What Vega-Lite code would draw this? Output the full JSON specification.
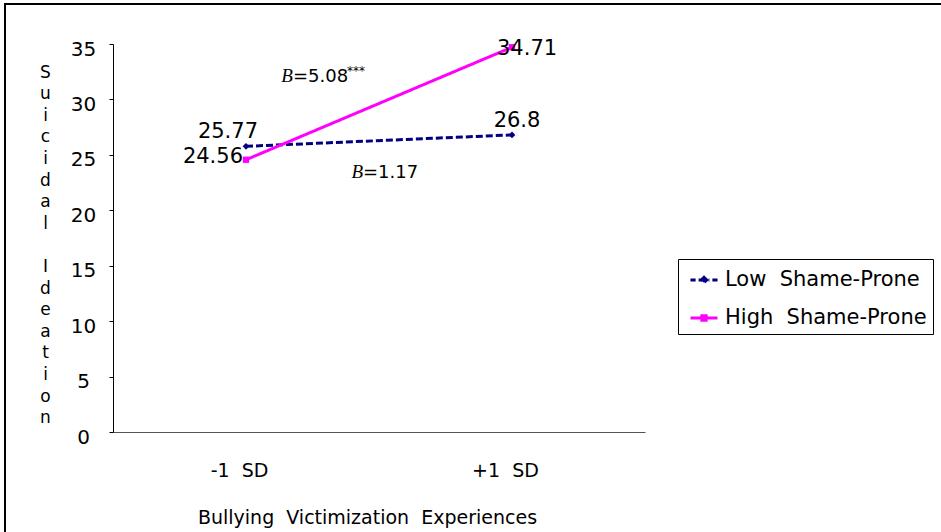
{
  "$schema": "https://vega.github.io/schema/vega-lite/v6.json",
  "width": 936,
  "height": 528,
  "autosize": {"type": "none"},
  "padding": {"left": 5, "top": 4, "right": 0, "bottom": 0},
  "background": "white",
  "config": {
    "view": {"stroke": "#000", "strokeWidth": 2, "strokeDash": [936, 1464, 530]},
    "font": "DejaVu Sans"
  },
  "datasets": {
    "points": [
      {"series": "Low Shame-Prone", "sd": -1, "value": 25.77},
      {"series": "Low Shame-Prone", "sd": 1, "value": 26.8},
      {"series": "High Shame-Prone", "sd": -1, "value": 24.56},
      {"series": "High Shame-Prone", "sd": 1, "value": 34.71}
    ],
    "notes": [
      {"sd": -0.647, "value": 31.57, "b": "B", "eq": "=5.08", "sup": "***"},
      {"sd": -0.12, "value": 22.91, "b": "B", "eq": "=1.17", "sup": ""}
    ]
  },
  "encoding": {
    "x": {
      "field": "sd",
      "type": "quantitative",
      "scale": {"domain": [-2, 2], "range": [108, 640], "nice": false, "zero": false},
      "axis": {
        "values": [-1, 1],
        "labelExpr": "datum.value < 0 ? '-1\u00a0 SD' : '+1\u00a0 SD'",
        "title": "Bullying\u00a0 Victimization\u00a0 Experiences",
        "offset": -100,
        "ticks": false,
        "tickSize": 0,
        "grid": false,
        "domainColor": "#555",
        "domainWidth": 1,
        "labelFlush": false,
        "labelFont": "DejaVu Sans",
        "labelFontSize": 19,
        "labelColor": "#000",
        "labelBaseline": "top",
        "labelPadding": 29,
        "labelOffset": -7,
        "titleFont": "DejaVu Sans",
        "titleFontSize": 19,
        "titleFontWeight": "normal",
        "titleColor": "#000",
        "titleX": 362,
        "titleY": 91,
        "titleAlign": "center",
        "titleBaseline": "alphabetic"
      }
    },
    "y": {
      "field": "value",
      "type": "quantitative",
      "scale": {"domain": [0, 35], "range": [428, 40], "nice": false, "zero": false},
      "axis": {
        "values": [0, 5, 10, 15, 20, 25, 30, 35],
        "offset": -108,
        "tickSize": 4,
        "tickColor": "#000",
        "domainColor": "#000",
        "grid": false,
        "labelFlush": false,
        "labelAlign": "center",
        "labelBaseline": "middle",
        "labelPadding": 26,
        "labelOffset": 5,
        "labelFont": "DejaVu Sans",
        "labelFontSize": 20,
        "labelColor": "#000",
        "title": ["S", "u", "i", "c", "i", "d", "a", "l", "\u2800", "I", "d", "e", "a", "t", "i", "o", "n"],
        "titleAngle": 0,
        "titleFont": "DejaVu Sans",
        "titleFontSize": 17,
        "titleFontWeight": "normal",
        "titleColor": "#000",
        "titleLineHeight": 21.6,
        "titleX": -68,
        "titleY": 60,
        "titleAlign": "center",
        "titleBaseline": "top"
      }
    }
  },
  "layer": [
    {
      "data": {"name": "points"},
      "mark": {"type": "line", "strokeWidth": 3},
      "encoding": {
        "color": {
          "field": "series",
          "type": "nominal",
          "scale": {"domain": ["Low Shame-Prone", "High Shame-Prone"], "range": ["#000080", "#FF00FF"]},
          "legend": {
            "orient": "none",
            "legendX": 673,
            "legendY": 255,
            "title": null,
            "strokeColor": "#000",
            "fillColor": "white",
            "padding": 6,
            "symbolOffset": 5,
            "labelFont": "DejaVu Sans",
            "labelFontSize": 21,
            "labelColor": "#000",
            "labelLimit": 400,
            "labelOffset": 6,
            "rowPadding": 13,
            "symbolSize": 729,
            "symbolStrokeWidth": 3,
            "labelExpr": "replace(datum.label, ' ', '\u00a0 ')",
            "encode": {
              "symbols": {
                "update": {
                  "shape": {"signal": "datum.value == 'Low Shame-Prone' ? 'M-1,0H-0.62M-0.4,0H0.4M0.62,0H1M0,-0.2L0.2,0L0,0.2L-0.2,0Z' : 'M-1,0H1M-0.16,-0.16H0.16V0.16H-0.16Z'"},
                  "fill": {"scale": "color", "field": "value"},
                  "strokeDash": {"value": [1, 0]}
                }
              }
            }
          }
        },
        "strokeDash": {
          "field": "series",
          "type": "nominal",
          "scale": {"domain": ["Low Shame-Prone", "High Shame-Prone"], "range": [[7, 3], [1, 0]]},
          "legend": null
        }
      }
    },
    {
      "data": {"name": "points"},
      "transform": [{"filter": "datum.series == 'Low Shame-Prone'"}],
      "mark": {"type": "point", "shape": "diamond", "filled": true, "opacity": 1, "size": 45},
      "encoding": {
        "color": {"field": "series", "type": "nominal", "legend": null}
      }
    },
    {
      "data": {"name": "points"},
      "transform": [{"filter": "datum.series == 'High Shame-Prone'"}],
      "mark": {"type": "point", "shape": "square", "filled": true, "opacity": 1, "size": 40},
      "encoding": {
        "color": {"field": "series", "type": "nominal", "legend": null}
      }
    },
    {
      "data": {"name": "points"},
      "transform": [{"filter": "datum.series == 'Low Shame-Prone' && datum.sd < 0"}],
      "mark": {"type": "text", "align": "right", "baseline": "alphabetic", "dx": 12, "dy": -8, "fontSize": 21, "font": "DejaVu Sans", "color": "#000"},
      "encoding": {"text": {"field": "value", "type": "nominal"}}
    },
    {
      "data": {"name": "points"},
      "transform": [{"filter": "datum.series == 'High Shame-Prone' && datum.sd < 0"}],
      "mark": {"type": "text", "align": "right", "baseline": "alphabetic", "dx": -3, "dy": 3, "fontSize": 21, "font": "DejaVu Sans", "color": "#000"},
      "encoding": {"text": {"field": "value", "type": "nominal"}}
    },
    {
      "data": {"name": "points"},
      "transform": [{"filter": "datum.series == 'Low Shame-Prone' && datum.sd > 0"}],
      "mark": {"type": "text", "align": "center", "baseline": "alphabetic", "dx": 5, "dy": -8, "fontSize": 21, "font": "DejaVu Sans", "color": "#000"},
      "encoding": {"text": {"field": "value", "type": "nominal"}}
    },
    {
      "data": {"name": "points"},
      "transform": [{"filter": "datum.series == 'High Shame-Prone' && datum.sd > 0"}],
      "mark": {"type": "text", "align": "left", "baseline": "alphabetic", "dx": -15, "dy": 8, "fontSize": 21, "font": "DejaVu Sans", "color": "#000"},
      "encoding": {"text": {"field": "value", "type": "nominal"}}
    },
    {
      "data": {"name": "notes"},
      "mark": {"type": "text", "align": "right", "baseline": "alphabetic", "fontSize": 19, "font": "Liberation Serif", "fontStyle": "italic", "color": "#000"},
      "encoding": {"text": {"field": "b", "type": "nominal"}}
    },
    {
      "data": {"name": "notes"},
      "mark": {"type": "text", "align": "left", "baseline": "alphabetic", "fontSize": 18, "font": "DejaVu Sans", "color": "#000"},
      "encoding": {"text": {"field": "eq", "type": "nominal"}}
    },
    {
      "data": {"name": "notes"},
      "transform": [{"filter": "datum.sup != ''"}],
      "mark": {"type": "text", "align": "left", "baseline": "alphabetic", "dx": 54, "dy": -7, "fontSize": 12, "font": "DejaVu Sans", "color": "#000"},
      "encoding": {"text": {"field": "sup", "type": "nominal"}}
    }
  ]
}
